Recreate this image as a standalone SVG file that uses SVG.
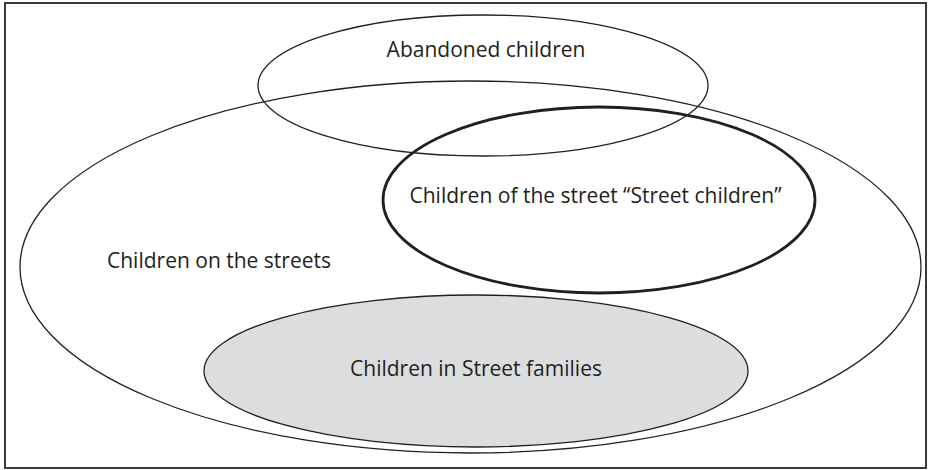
<svg xmlns="http://www.w3.org/2000/svg" width="931" height="470" viewBox="0 0 931 470">
<style>
.e{fill:none;stroke:#231f20;stroke-width:1.3}
.t{font-family:"Open Sans","Noto Sans",sans-serif;font-size:21px;fill:#231f20;text-anchor:middle}
</style>
<rect x="0" y="0" width="931" height="470" fill="#fff"/>
<rect x="5" y="3" width="921" height="465" fill="none" stroke="#3a3a3a" stroke-width="2"/>
<g id="streets">
<ellipse class="e" cx="470.5" cy="267" rx="450.5" ry="186"/>
<text class="t" x="219" y="268">Children on the streets</text>
</g>
<g id="families">
<ellipse cx="476" cy="371" rx="272" ry="76" fill="#dcdddf" stroke="#231f20" stroke-width="1.3"/>
<text class="t" x="476" y="376">Children in Street families</text>
</g>
<g id="abandoned">
<ellipse class="e" cx="483" cy="85.5" rx="225" ry="70.5"/>
<text class="t" x="486" y="57">Abandoned children</text>
</g>
<g id="street-children">
<ellipse class="e" cx="599" cy="200" rx="216" ry="93" style="stroke-width:2.8"/>
<text class="t" x="595.5" y="203">Children of the street “Street children”</text>
</g>
<g id="connectors"/>
</svg>
